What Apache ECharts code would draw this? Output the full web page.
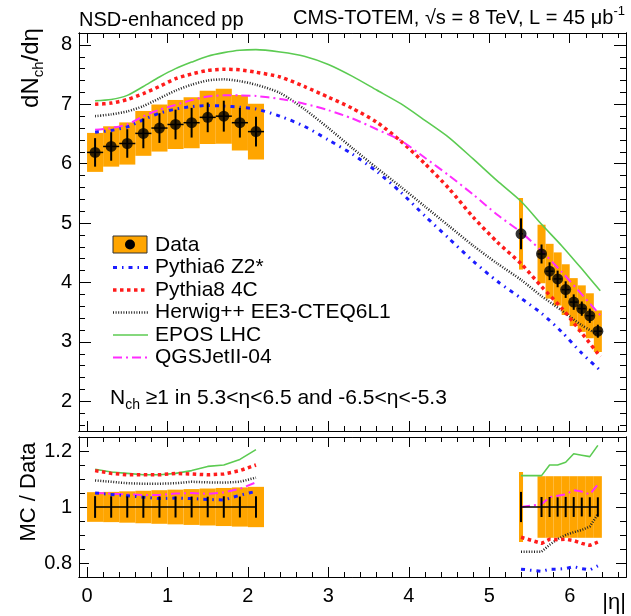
<!DOCTYPE html>
<html><head><meta charset="utf-8">
<script src="https://cdn.jsdelivr.net/npm/echarts@6/dist/echarts.min.js"></script>
<style>html,body{margin:0;padding:0;background:#fff}#c{width:631px;height:616px}</style>
</head><body><div id="c"></div><script>
// ---------------- data ----------------
const xMajor = [0,1,2,3,4,5,6];
const yTopMajor = [2,3,4,5,6,7,8];
const yBotMajor = [0.8,1,1.2];

// central region data (|eta| bins)
const cenEta   = [0.1,0.3,0.5,0.7,0.9,1.1,1.3,1.5,1.7,1.9,2.1];
const cenVal   = [6.19,6.29,6.34,6.51,6.60,6.66,6.69,6.78,6.80,6.69,6.54];
const cenErr   = [0.24,0.24,0.24,0.25,0.25,0.25,0.25,0.25,0.26,0.25,0.25];
const cenSys   = [0.053,0.054,0.056,0.058,0.060,0.062,0.064,0.066,0.068,0.070,0.072];
const cenHalfW = [0.1,0.1,0.1,0.1,0.1,0.1,0.1,0.1,0.1,0.1,0.1];

// forward region data
const fwdEta   = [5.395,5.65,5.75,5.85,5.95,6.05,6.15,6.25,6.35];
const fwdVal   = [4.82,4.48,4.19,4.06,3.88,3.67,3.56,3.44,3.18];
const fwdErr   = [0.26,0.16,0.15,0.14,0.14,0.13,0.12,0.12,0.11];
const fwdSys   = [0.125,0.11,0.11,0.11,0.11,0.11,0.11,0.11,0.11];
const fwdHalfW = [0.025,0.05,0.05,0.05,0.05,0.05,0.05,0.05,0.05];

// MC predictions (top panel)
const mcEta   = [0.1,0.3,0.5,0.7,0.9,1.1,1.3,1.5,1.7,1.9,2.1,2.4,2.7,3.0,3.3,3.6,3.9,4.2,4.5,4.8,5.1,5.4,5.65,5.9,6.15,6.38];
const mcPy6   = [6.53,6.56,6.62,6.74,6.85,6.92,6.96,6.98,6.97,6.95,6.92,6.80,6.63,6.40,6.16,5.87,5.52,5.12,4.74,4.36,4.02,3.73,3.48,3.17,2.81,2.52];
const mcPy8   = [7.00,7.02,7.08,7.18,7.30,7.43,7.51,7.57,7.59,7.58,7.54,7.46,7.30,7.12,6.93,6.70,6.38,6.00,5.58,5.10,4.68,4.31,3.93,3.57,3.15,2.75];
const mcHw    = [6.80,6.83,6.88,6.97,7.10,7.23,7.33,7.40,7.42,7.39,7.33,7.19,6.92,6.60,6.26,5.93,5.61,5.28,4.95,4.62,4.32,4.04,3.77,3.53,3.28,3.10];
const mcEpos  = [7.06,7.08,7.15,7.30,7.46,7.60,7.71,7.81,7.87,7.91,7.92,7.88,7.81,7.67,7.47,7.24,7.01,6.73,6.44,6.08,5.71,5.36,4.98,4.62,4.23,3.86];
const mcQgs   = [6.57,6.60,6.66,6.80,6.91,6.99,7.07,7.13,7.15,7.15,7.14,7.09,7.01,6.90,6.76,6.58,6.39,6.10,5.80,5.48,5.14,4.84,4.53,4.18,3.80,3.45];

// MC / Data ratios
const rCenPy6  = [1.05,1.045,1.04,1.035,1.03,1.032,1.03,1.027,1.025,1.042,1.056];
const rCenPy8  = [1.13,1.12,1.115,1.115,1.115,1.12,1.118,1.115,1.118,1.13,1.15];
const rCenHw   = [1.095,1.09,1.085,1.083,1.083,1.085,1.09,1.088,1.087,1.09,1.105];
const rCenEpos = [1.135,1.125,1.12,1.115,1.115,1.12,1.13,1.145,1.15,1.17,1.205];
const rCenQgs  = [1.05,1.048,1.045,1.043,1.043,1.048,1.05,1.047,1.052,1.065,1.088];
const rFwdPy6  = [0.778,0.77,0.778,0.778,0.78,0.787,0.78,0.775,0.79];
const rFwdPy8  = [0.892,0.87,0.885,0.883,0.885,0.88,0.87,0.863,0.875];
const rFwdHw   = [0.84,0.84,0.865,0.885,0.9,0.91,0.918,0.93,0.975];
const rFwdEpos = [1.112,1.112,1.15,1.15,1.16,1.19,1.185,1.18,1.22];
const rFwdQgs  = [1.0,1.01,1.035,1.04,1.045,1.06,1.055,1.045,1.08];

const seriesNames = ['Data','Pythia6 Z2*','Pythia8 4C','Herwig++ EE3-CTEQ6L1','EPOS LHC','QGSJetII-04'];

// ---------------- styles ----------------
const FF = '"Liberation Sans", Arial, Helvetica, sans-serif';
const ORANGE = '#ffa500';
const ST = {
  py6:  {color:'#1c1cff', width:3,   type:[4,5,1.5,5]},
  py8:  {color:'#ff1c1c', width:3.5, type:[3.5,3.5]},
  hw:   {color:'#222222', width:2.5, type:[1,1.6]},
  epos: {color:'#5ccb52', width:1.6, type:'solid'},
  qgs:  {color:'#ff2cff', width:2,   type:[9,4,2,4]}
};

function range(a, b, step, skip) {
  const out = [];
  for (let v = a; v <= b + 1e-9; v += step) {
    const r = Math.round(v * 1000) / 1000;
    if (!skip.some(s => Math.abs(s - r) < 1e-6)) out.push(r);
  }
  return out;
}
const xMinor = range(0, 6.6, 0.2, xMajor);
const yTopMinor = range(1.6, 8.2, 0.2, yTopMajor);
const yBotMinor = range(0.75, 1.25, 0.05, yBotMajor);

function xAx(grid, pos, ticks, len, lbl) {
  return {type:'value', gridIndex:grid, position:pos, min:-0.1, max:6.7,
    axisLine:{show:true, onZero:false, lineStyle:{color:'#000', width:1}},
    axisTick:{show:true, inside:true, length:len, customValues:ticks, lineStyle:{color:'#000', width:1}},
    splitLine:{show:false}, minorTick:{show:false},
    axisLabel: lbl ? {show:true, customValues:ticks, color:'#000', fontSize:20, fontFamily:FF, margin:9} : {show:false}};
}
function yAx(grid, pos, mn, mx, ticks, len, lbl) {
  return {type:'value', gridIndex:grid, position:pos, min:mn, max:mx,
    axisLine:{show:true, onZero:false, lineStyle:{color:'#000', width:1}},
    axisTick:{show:true, inside:true, length:len, customValues:ticks, lineStyle:{color:'#000', width:1}},
    splitLine:{show:false}, minorTick:{show:false},
    axisLabel: lbl ? {show:true, customValues:ticks, color:'#000', fontSize:20, fontFamily:FF, margin:7} : {show:false}};
}

const xAxes = [
  xAx(0,'bottom',xMajor,10,false), xAx(0,'bottom',xMinor,5,false),
  xAx(0,'top',xMajor,10,false),    xAx(0,'top',xMinor,5,false),
  xAx(1,'bottom',xMajor,10,true),  xAx(1,'bottom',xMinor,5,false),
  xAx(1,'top',xMajor,10,false),    xAx(1,'top',xMinor,5,false)
];
const yAxes = [
  yAx(0,'left',1.5,8.2,yTopMajor,12,true), yAx(0,'left',1.5,8.2,yTopMinor,6,false),
  yAx(0,'right',1.5,8.2,yTopMajor,12,false), yAx(0,'right',1.5,8.2,yTopMinor,6,false),
  yAx(1,'left',0.75,1.25,yBotMajor,10,true), yAx(1,'left',0.75,1.25,yBotMinor,6,false),
  yAx(1,'right',0.75,1.25,yBotMajor,10,false), yAx(1,'right',0.75,1.25,yBotMinor,6,false)
];

function boxRender(params, api) {
  const x = api.value(0), hw = api.value(1), lo = api.value(2), hi = api.value(3);
  const p1 = api.coord([x - hw, hi]), p2 = api.coord([x + hw, lo]);
  return {type:'rect', shape:{x:p1[0], y:p1[1], width:p2[0]-p1[0], height:p2[1]-p1[1]},
          style:{fill:ORANGE}};
}
function errRender(params, api) {
  const x = api.value(0), hw = api.value(1), lo = api.value(2), hi = api.value(3), y = api.value(4);
  const a = api.coord([x, lo]), b = api.coord([x, hi]);
  const ch = [{type:'line', shape:{x1:a[0], y1:a[1], x2:b[0], y2:b[1]}, style:{stroke:'#000', lineWidth:2}}];
  if (hw > 0) {
    const c = api.coord([x - hw, y]), d = api.coord([x + hw, y]);
    ch.push({type:'line', shape:{x1:c[0], y1:c[1], x2:d[0], y2:d[1]}, style:{stroke:'#000', lineWidth:1.5}});
  }
  return {type:'group', children:ch};
}

const allEta = cenEta.concat(fwdEta), allVal = cenVal.concat(fwdVal);
const allErr = cenErr.concat(fwdErr), allSys = cenSys.concat(fwdSys), allHW = cenHalfW.concat(fwdHalfW);

const series = [];
// top panel
series.push({type:'custom', name:'Data sys', xAxisIndex:0, yAxisIndex:0, z:1, renderItem:boxRender,
  encode:{x:0, y:[2,3]},
  data: allEta.map((e,i)=>[e, allHW[i], allVal[i]*(1-allSys[i]), allVal[i]*(1+allSys[i])])});
function mcLine(name, vals, st, xi, yi, etas) {
  return {type:'line', name:name, xAxisIndex:xi, yAxisIndex:yi, z:3, showSymbol:false, symbol:'none',
    smooth:0.25, data: etas.map((e,i)=>[e, vals[i]]),
    lineStyle:{color:st.color, width:st.width, type:st.type}, itemStyle:{color:st.color}};
}
series.push(mcLine(seriesNames[4], mcEpos, ST.epos, 0, 0, mcEta));
series.push(mcLine(seriesNames[3], mcHw, ST.hw, 0, 0, mcEta));
series.push(mcLine(seriesNames[2], mcPy8, ST.py8, 0, 0, mcEta));
series.push(mcLine(seriesNames[5], mcQgs, ST.qgs, 0, 0, mcEta));
series.push(mcLine(seriesNames[1], mcPy6, ST.py6, 0, 0, mcEta));
series.push({type:'custom', name:'Data err', xAxisIndex:0, yAxisIndex:0, z:5, renderItem:errRender,
  encode:{x:0, y:[2,3]},
  data: allEta.map((e,i)=>[e, allHW[i], allVal[i]-allErr[i], allVal[i]+allErr[i], allVal[i]])});
series.push({type:'scatter', name:seriesNames[0], xAxisIndex:0, yAxisIndex:0, z:6, symbol:'circle', symbolSize:11,
  itemStyle:{color:'#000'}, data: allEta.map((e,i)=>[e, allVal[i]])});

// ratio panel
series.push({type:'custom', name:'Ratio sys', xAxisIndex:4, yAxisIndex:4, z:1, renderItem:boxRender,
  encode:{x:0, y:[2,3]},
  data: allEta.map((e,i)=>[e, allHW[i], 1-allSys[i], 1+allSys[i]])});
[[rCenEpos,rFwdEpos,ST.epos,4],[rCenHw,rFwdHw,ST.hw,3],[rCenPy8,rFwdPy8,ST.py8,2],[rCenQgs,rFwdQgs,ST.qgs,5],[rCenPy6,rFwdPy6,ST.py6,1]]
 .forEach(([c,f,st,k]) => {
   const s1 = mcLine(seriesNames[k], c, st, 4, 4, cenEta); s1.smooth = false;
   const s2 = mcLine(seriesNames[k], f, st, 4, 4, fwdEta); s2.smooth = false;
   series.push(s1, s2);
 });
[cenEta, fwdEta].forEach(etas => {
  series.push({type:'line', xAxisIndex:4, yAxisIndex:4, z:5, showSymbol:false, symbol:'none',
    data: etas.map(e=>[e,1]), lineStyle:{color:'#000', width:1.5}});
});
series.push({type:'custom', name:'Ratio err', xAxisIndex:4, yAxisIndex:4, z:6, renderItem:errRender,
  encode:{x:0, y:[2,3]},
  data: allEta.map((e,i)=>[e, 0, 1-allErr[i]/allVal[i], 1+allErr[i]/allVal[i], 1])});

// ---------------- texts / legend ----------------
const legRowY = [245, 267.5, 290, 312.5, 335, 357.5];
const legStyles = [null, ST.py6, ST.py8, ST.hw, ST.epos, ST.qgs];
const graphics = [];
graphics.push({type:'rect', shape:{x:113, y:236, width:34, height:17}, style:{fill:ORANGE, stroke:'#333', lineWidth:1}, z:10});
graphics.push({type:'circle', shape:{cx:130, cy:244.5, r:5}, style:{fill:'#000'}, z:11});
for (let i = 1; i < 6; i++) {
  const st = legStyles[i];
  graphics.push({type:'line', shape:{x1:113, y1:legRowY[i], x2:148, y2:legRowY[i]},
    style:{stroke:st.color, lineWidth:st.width, lineDash: st.type === 'solid' ? null : st.type}, z:10});
}
for (let i = 0; i < 6; i++) {
  graphics.push({type:'text', x:155, y:legRowY[i], z:10,
    style:{text:seriesNames[i], font:'21px ' + FF, fill:'#000', textAlign:'left', textVerticalAlign:'middle'}});
}
graphics.push({type:'text', x:79, y:20, z:10,
  style:{text:'NSD-enhanced pp', font:'20px ' + FF, fill:'#000', textAlign:'left', textVerticalAlign:'middle'}});
graphics.push({type:'text', x:625, y:18, z:10,
  style:{text:'{n|CMS-TOTEM, √s = 8 TeV, L = 45 μb}{p|-1}', fill:'#000', textAlign:'right', textVerticalAlign:'middle',
    rich:{n:{fontSize:20, fontFamily:FF, lineHeight:26, fill:'#000'}, p:{fontSize:13, fontFamily:FF, lineHeight:13, verticalAlign:'top', fill:'#000'}}}});
graphics.push({type:'text', x:31, y:68, rotation:Math.PI/2, z:10,
  style:{text:'{n|dN}{s|ch}{n|/dη}', fill:'#000', textAlign:'center', textVerticalAlign:'middle',
    rich:{n:{fontSize:24, fontFamily:FF, lineHeight:30, fill:'#000'}, s:{fontSize:15, fontFamily:FF, lineHeight:15, verticalAlign:'bottom', fill:'#000'}}}});
graphics.push({type:'text', x:29, y:492, rotation:Math.PI/2, z:10,
  style:{text:'MC / Data', font:'22px ' + FF, fill:'#000', textAlign:'center', textVerticalAlign:'middle'}});
graphics.push({type:'text', x:626, y:603, z:10,
  style:{text:'|η|', font:'22px ' + FF, fill:'#000', textAlign:'right', textVerticalAlign:'middle'}});
graphics.push({type:'text', x:110, y:398, z:10,
  style:{text:'{n|N}{s|ch}{n| ≥1 in 5.3<η<6.5 and -6.5<η<-5.3}', fill:'#000', textAlign:'left', textVerticalAlign:'middle',
    rich:{n:{fontSize:21, fontFamily:FF, lineHeight:28, fill:'#000'}, s:{fontSize:14, fontFamily:FF, lineHeight:14, verticalAlign:'bottom', fill:'#000'}}}});

const chart = echarts.init(document.getElementById('c'), null, {renderer:'canvas'});
chart.setOption({
  animation:false,
  backgroundColor:'#fff',
  textStyle:{fontFamily:FF},
  grid:[{left:79, top:33, width:547, height:398}, {left:79, top:437, width:547, height:140}],
  xAxis:xAxes, yAxis:yAxes, series:series, graphic:graphics
});
</script></body></html>
